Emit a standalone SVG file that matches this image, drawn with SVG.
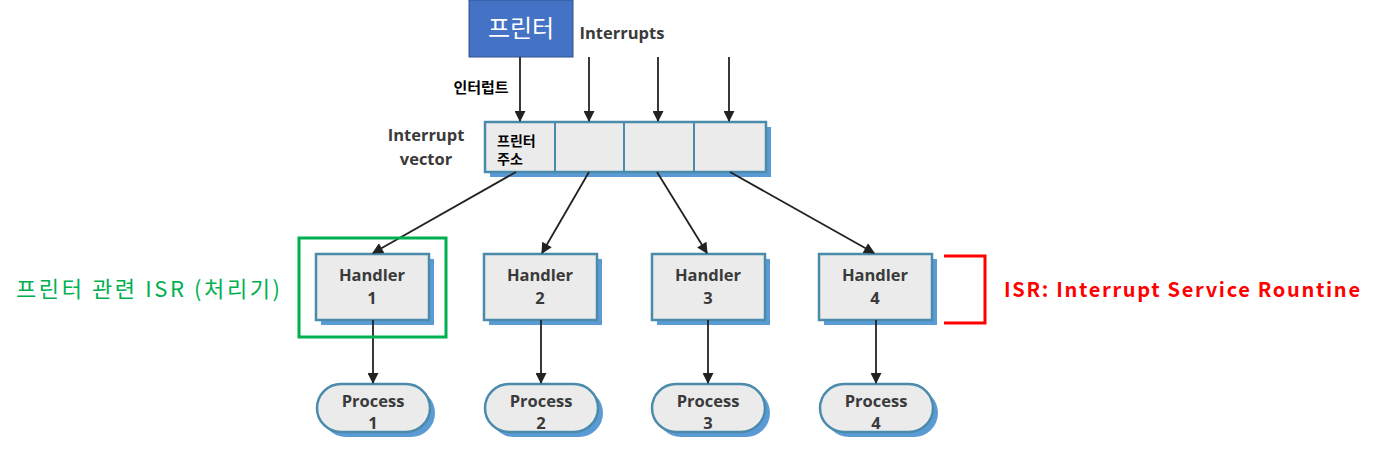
<svg xmlns="http://www.w3.org/2000/svg" width="1393" height="468" viewBox="0 0 1393 468">
<defs>
<marker id="ah" viewBox="0 0 10 10" refX="9" refY="5" markerWidth="12" markerHeight="11" orient="auto" markerUnits="userSpaceOnUse">
<path d="M0,0 L10,5 L0,10 z" fill="#222"/>
</marker>
</defs>
<style>
.box{fill:#ebebeb;stroke:#4a8aab;stroke-width:2.5}
.shadow{fill:#5b9bd5}
.lbl{font-family:"Open Sans","Liberation Sans",sans-serif;font-weight:700;font-size:16.5px;fill:#3a3a3a;text-anchor:middle}
.kr{font-family:"Noto Sans CJK KR",sans-serif}
.conn{stroke:#222;stroke-width:1.8;fill:none;marker-end:url(#ah)}
</style>
<rect width="1393" height="468" fill="#fff"/>

<g id="printer">
<rect x="469" y="0" width="104" height="57" fill="#4472c4" stroke="#2f528f" stroke-width="1"/>
<text x="521" y="37" class="kr" font-size="24" fill="#fff" text-anchor="middle">프린터</text>
</g>

<g id="interrupts-label">
<text x="622" y="39" class="lbl" text-anchor="middle">Interrupts</text>
</g>

<g id="interrupt-label-kr">
<text x="481" y="93" class="kr" font-size="15" font-weight="bold" fill="#000" text-anchor="middle">인터럽트</text>
</g>

<g id="vector-label">
<text x="426" y="141" class="lbl">Interrupt</text>
<text x="426" y="165" class="lbl">vector</text>
</g>

<g id="interrupt-vector">
<rect x="490" y="127" width="281" height="50" class="shadow"/>
<rect x="485" y="122" width="281" height="50" class="box"/>
<line x1="555" y1="122" x2="555" y2="172" stroke="#4a8aab" stroke-width="2"/>
<line x1="624" y1="122" x2="624" y2="172" stroke="#4a8aab" stroke-width="2"/>
<line x1="694" y1="122" x2="694" y2="172" stroke="#4a8aab" stroke-width="2"/>
<text x="497" y="146" class="kr" font-size="14" font-weight="bold" fill="#000">프린터</text>
<text x="497" y="164" class="kr" font-size="14" font-weight="bold" fill="#000">주소</text>
</g>

<g id="handler1">
<rect x="321" y="259" width="113" height="66" class="shadow"/>
<rect x="316" y="254" width="113" height="66" class="box"/>
<text x="372" y="281" class="lbl">Handler</text>
<text x="372" y="304" class="lbl">1</text>
</g>
<g id="handler2">
<rect x="489" y="259" width="113" height="66" class="shadow"/>
<rect x="484" y="254" width="113" height="66" class="box"/>
<text x="540" y="281" class="lbl">Handler</text>
<text x="540" y="304" class="lbl">2</text>
</g>
<g id="handler3">
<rect x="657" y="259" width="113" height="66" class="shadow"/>
<rect x="652" y="254" width="113" height="66" class="box"/>
<text x="708" y="281" class="lbl">Handler</text>
<text x="708" y="304" class="lbl">3</text>
</g>
<g id="handler4">
<rect x="824" y="259" width="113" height="66" class="shadow"/>
<rect x="819" y="254" width="113" height="66" class="box"/>
<text x="875" y="281" class="lbl">Handler</text>
<text x="875" y="304" class="lbl">4</text>
</g>

<g id="process1">
<rect x="322" y="389" width="113" height="48" rx="24" class="shadow"/>
<rect x="317" y="384" width="113" height="48" rx="24" class="box"/>
<text x="373" y="407" class="lbl">Process</text>
<text x="373" y="429" class="lbl">1</text>
</g>
<g id="process2">
<rect x="490" y="389" width="113" height="48" rx="24" class="shadow"/>
<rect x="485" y="384" width="113" height="48" rx="24" class="box"/>
<text x="541" y="407" class="lbl">Process</text>
<text x="541" y="429" class="lbl">2</text>
</g>
<g id="process3">
<rect x="657" y="389" width="113" height="48" rx="24" class="shadow"/>
<rect x="652" y="384" width="113" height="48" rx="24" class="box"/>
<text x="708" y="407" class="lbl">Process</text>
<text x="708" y="429" class="lbl">3</text>
</g>
<g id="process4">
<rect x="825" y="389" width="113" height="48" rx="24" class="shadow"/>
<rect x="820" y="384" width="113" height="48" rx="24" class="box"/>
<text x="876" y="407" class="lbl">Process</text>
<text x="876" y="429" class="lbl">4</text>
</g>

<g id="connectors">
<line x1="520" y1="57" x2="520" y2="121" class="conn"/>
<line x1="589" y1="57" x2="589" y2="121" class="conn"/>
<line x1="658" y1="57" x2="658" y2="121" class="conn"/>
<line x1="729" y1="57" x2="729" y2="121" class="conn"/>
<line x1="516" y1="172" x2="373" y2="253" class="conn"/>
<line x1="589" y1="172" x2="542" y2="253" class="conn"/>
<line x1="657" y1="172" x2="707" y2="253" class="conn"/>
<line x1="730" y1="172" x2="874" y2="253" class="conn"/>
<line x1="373" y1="320" x2="373" y2="383" class="conn"/>
<line x1="541" y1="320" x2="541" y2="383" class="conn"/>
<line x1="708" y1="320" x2="708" y2="383" class="conn"/>
<line x1="876" y1="320" x2="876" y2="383" class="conn"/>
</g>

<g id="printer-isr-highlight">
<rect x="299" y="238" width="147" height="99" fill="none" stroke="#00b050" stroke-width="3"/>
<text x="148" y="297" class="kr" font-size="22" fill="#00b050" text-anchor="middle" textLength="264" lengthAdjust="spacing">프린터 관련 ISR (처리기)</text>
</g>

<g id="isr-bracket">
<polyline points="944,256 985,256 985,323 944,323" fill="none" stroke="#ff0000" stroke-width="3"/>
<text x="1182" y="297" class="kr" font-size="20" font-weight="bold" fill="#ff0000" text-anchor="middle" textLength="356" lengthAdjust="spacing">ISR: Interrupt Service Rountine</text>
</g>
</svg>
